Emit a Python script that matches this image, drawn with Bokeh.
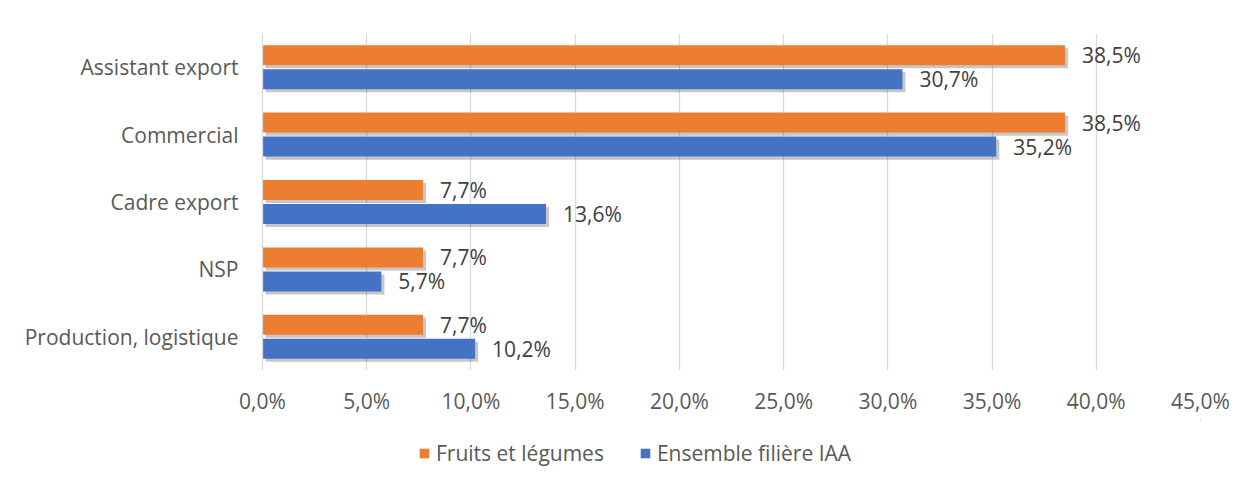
from bokeh.plotting import figure
from bokeh.layouts import column
from bokeh.models import ColumnDataSource, FactorRange, Range1d, FixedTicker, Legend, LegendItem
from bokeh.transform import dodge
from bokeh.core.properties import value
from bokeh.embed import file_html
from bokeh.resources import INLINE

# ---- data ----
categories = ["Assistant export", "Commercial", "Cadre export", "NSP", "Production, logistique"]
fruits_legumes = [38.5, 38.5, 7.7, 7.7, 7.7]
ensemble_iaa = [30.7, 35.2, 13.6, 5.7, 10.2]
series_names = ["Fruits et légumes", "Ensemble filière IAA"]
tick_values = [0, 5, 10, 15, 20, 25, 30, 35, 40, 45]
tick_labels = ["0,0%", "5,0%", "10,0%", "15,0%", "20,0%", "25,0%", "30,0%", "35,0%", "40,0%", "45,0%"]

ORANGE = "#ED7D31"
BLUE = "#4472C4"
FONT = "Open Sans"


def fmt(v):
    return f"{v:.1f}".replace(".", ",") + "%"


SH_X = 0.15   # shadow offset (x units)
SH_Y = 0.045  # shadow offset (category units)
OFF = 0.178
H = 0.297

src = ColumnDataSource(dict(
    cat=categories,
    fl=fruits_legumes,
    iaa=ensemble_iaa,
    fl_sh=[v + SH_X for v in fruits_legumes],
    iaa_sh=[v + SH_X for v in ensemble_iaa],
    fl_lab=[fmt(v) for v in fruits_legumes],
    iaa_lab=[fmt(v) for v in ensemble_iaa],
))

W = 1252
p = figure(width=W, height=420,
           y_range=FactorRange(*categories[::-1]), x_range=Range1d(0, 45),
           output_backend="svg", toolbar_location=None,
           min_border_left=262, min_border_right=52,
           min_border_top=33, min_border_bottom=50)
p.outline_line_color = None
p.background_fill_color = "white"
p.border_fill_color = "white"

p.ygrid.grid_line_color = None
p.xgrid.grid_line_color = "#d9d9d9"
p.xgrid.grid_line_width = 1.3

p.xaxis.ticker = FixedTicker(ticks=tick_values)
p.xaxis.major_label_overrides = dict(zip(tick_values, tick_labels))
p.xaxis.axis_line_color = None
p.xaxis.major_tick_line_color = None
p.xaxis.minor_tick_line_color = None
p.xaxis.major_label_standoff = 10
p.xaxis.major_label_text_font = FONT
p.xaxis.major_label_text_font_size = "21px"
p.xaxis.major_label_text_color = "#595959"

p.yaxis.axis_line_color = "#d9d9d9"
p.yaxis.axis_line_width = 1.3
p.yaxis.major_tick_line_color = None
p.yaxis.minor_tick_line_color = None
p.yaxis.major_label_standoff = 18
p.yaxis.major_label_text_font = FONT
p.yaxis.major_label_text_font_size = "21px"
p.yaxis.major_label_text_color = "#595959"

# shadows
for f, o in (("fl_sh", OFF), ("iaa_sh", -OFF)):
    p.hbar(y=dodge("cat", o - SH_Y, range=p.y_range), left=SH_X, right=f, height=H,
           source=src, fill_color="#000000", fill_alpha=0.22, line_color=None)

p.hbar(y=dodge("cat", OFF, range=p.y_range), left=0, right="fl", height=H,
       source=src, fill_color=ORANGE, line_color=None)
p.hbar(y=dodge("cat", -OFF, range=p.y_range), left=0, right="iaa", height=H,
       source=src, fill_color=BLUE, line_color=None)

for f, lab, o in (("fl", "fl_lab", OFF), ("iaa", "iaa_lab", -OFF)):
    p.text(x=f, y=dodge("cat", o, range=p.y_range), text=lab, source=src,
           x_offset=17, text_baseline="middle", text_align="left",
           text_font=value(FONT), text_font_size="21px", text_color="#404040")

# ---- legend strip (frame aligned with the main plot's frame) ----
lf = figure(width=W, height=60, x_range=Range1d(0, 1), y_range=Range1d(0, 1),
            output_backend="svg", toolbar_location=None,
            min_border_left=262, min_border_right=52,
            min_border_top=0, min_border_bottom=0)
lf.axis.visible = False
lf.grid.visible = False
lf.outline_line_color = None
lf.background_fill_color = "white"
lf.border_fill_color = "white"
# legend-only renderers: zero-width bars lying far outside this strip's ranges
d_or = lf.hbar(y="fl", left="fl", right="fl", height=0.1, source=src,
               fill_color=ORANGE, line_color=None)
d_bl = lf.hbar(y="iaa", left="iaa", right="iaa", height=0.1, source=src,
               fill_color=BLUE, line_color=None)

legend = Legend(items=[LegendItem(label=series_names[0], renderers=[d_or], index=0),
                       LegendItem(label=series_names[1], renderers=[d_bl], index=0)],
                orientation="horizontal", location=(156, 13),
                padding=0, margin=0, spacing=35,
                glyph_width=12, glyph_height=12, label_standoff=6,
                label_text_font=FONT, label_text_font_size="21px",
                label_text_color="#595959",
                border_line_color=None, background_fill_alpha=0)
lf.add_layout(legend)

layout = column(p, lf, spacing=0)

open("out.html", "w").write(file_html(layout, INLINE))
